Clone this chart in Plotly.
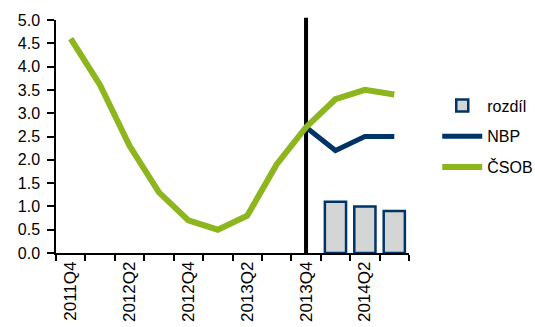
import plotly.graph_objects as go

# Quarterly categories on the x axis
quarters = ["2011Q4", "2012Q1", "2012Q2", "2012Q3", "2012Q4", "2013Q1",
            "2013Q2", "2013Q3", "2013Q4", "2014Q1", "2014Q2", "2014Q3"]
# Only every second quarter gets a label
tick_labels = ["2011Q4", "", "2012Q2", "", "2012Q4", "", "2013Q2", "",
               "2013Q4", "", "2014Q2", ""]

csob = [4.6, 3.6, 2.3, 1.3, 0.7, 0.5, 0.8, 1.9, 2.7, 3.3, 3.5, 3.4]
nbp_quarters = ["2013Q4", "2014Q1", "2014Q2", "2014Q3"]
nbp = [2.7, 2.2, 2.5, 2.5]
diff_quarters = ["2014Q1", "2014Q2", "2014Q3"]
diff = [1.1, 1.0, 0.9]

GREEN = "#8DB51E"
NAVY = "#003466"
GREY = "#D4D6D6"

fig = go.Figure()

fig.add_trace(go.Bar(
    x=diff_quarters, y=diff, name="rozdíl",
    marker=dict(color=GREY, line=dict(color=NAVY, width=2.5)),
    width=0.72, legendgroup="a",
))
fig.add_trace(go.Scatter(
    x=nbp_quarters, y=nbp, name="NBP", mode="lines",
    line=dict(color=NAVY, width=5), legendgroup="b",
))
fig.add_trace(go.Scatter(
    x=quarters, y=csob, name="ČSOB", mode="lines",
    line=dict(color=GREEN, width=6), legendgroup="c",
))

# Forecast divider at 2013Q4
fig.add_shape(
    type="line", xref="x", yref="paper",
    x0="2013Q4", x1="2013Q4", y0=0, y1=1.01,
    line=dict(color="black", width=4), layer="below",
)

fig.update_layout(
    width=535, height=327,
    margin=dict(l=56, r=126, t=20, b=74, autoexpand=False),
    paper_bgcolor="white", plot_bgcolor="white",
    font=dict(family="Liberation Sans, Arial, sans-serif", size=16, color="black"),
    showlegend=True,
    legend=dict(
        x=1.08, y=0.5, xanchor="left", yanchor="middle",
        traceorder="grouped", tracegroupgap=7, itemwidth=40,
        font=dict(size=16), bgcolor="rgba(0,0,0,0)",
    ),
    bargap=0.28,
)

fig.update_xaxes(
    type="category", categoryorder="array", categoryarray=quarters,
    tickmode="array", tickvals=quarters, ticktext=tick_labels,
    tickangle=-90, tickson="boundaries", tickfont=dict(size=17),
    ticks="outside", ticklen=6, tickwidth=1.5, tickcolor="black",
    showline=True, linecolor="black", linewidth=1.5,
    showgrid=False, range=[-0.5, 11.5], automargin=False,
)
fig.update_yaxes(
    range=[0, 5], dtick=0.5, tickformat=".1f", tickfont=dict(size=16),
    ticks="outside", ticklen=7, tickwidth=1.5, tickcolor="black",
    ticklabelstandoff=4,
    showline=True, linecolor="black", linewidth=1.5,
    showgrid=False, zeroline=False, automargin=False,
)

fig.write_html("out.html")
